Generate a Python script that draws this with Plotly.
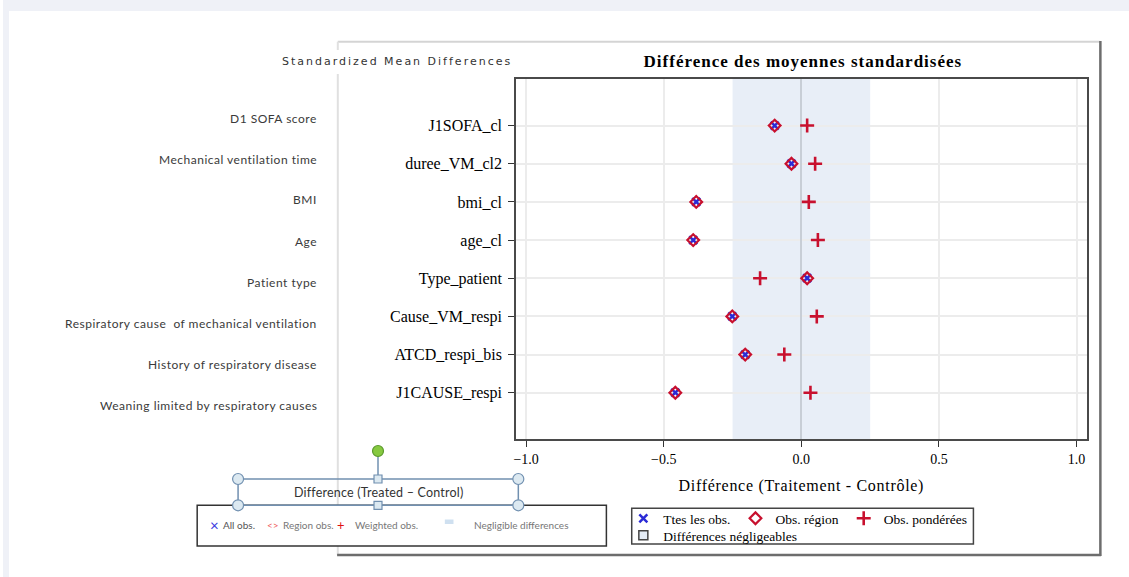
import plotly.graph_objects as go

W, H = 1129, 577

# ---------------- data ----------------
categories = ["J1SOFA_cl", "duree_VM_cl2", "bmi_cl", "age_cl",
              "Type_patient", "Cause_VM_respi", "ATCD_respi_bis", "J1CAUSE_respi"]
english_labels = ["D1 SOFA score", "Mechanical ventilation time", "BMI", "Age",
                  "Patient type", "Respiratory cause  of mechanical ventilation",
                  "History of respiratory disease", "Weaning limited by respiratory causes"]
all_obs = [-0.097, -0.036, -0.382, -0.393, 0.021, -0.251, -0.204, -0.458]
region_obs = [-0.097, -0.036, -0.382, -0.393, 0.021, -0.251, -0.204, -0.458]
weighted_obs = [0.021, 0.050, 0.027, 0.060, -0.150, 0.056, -0.062, 0.033]
x_ticks = [-1.0, -0.5, 0.0, 0.5, 1.0]
negligible_limit = 0.25

# ---------------- helpers ----------------
def px(x):
    return x / W

def py(y):
    return 1 - y / H

RED = "#c8102e"
BLUE = "#2b2bd6"
SERIF = "Liberation Serif"
SANS = "Lato"

fig = go.Figure()

fig.add_trace(go.Scatter(
    x=all_obs, y=categories, mode="markers", name="Ttes les obs.",
    marker=dict(symbol="x-thin", size=8, color=BLUE, line=dict(color=BLUE, width=2.5)),
    legend="legend"))
fig.add_trace(go.Scatter(
    x=region_obs, y=categories, mode="markers", name="Obs. région",
    marker=dict(symbol="diamond-open", size=9, color=RED, line=dict(color=RED, width=2.2)),
    legend="legend"))
fig.add_trace(go.Scatter(
    x=weighted_obs, y=categories, mode="markers", name="Obs. pondérées",
    marker=dict(symbol="cross-thin", size=10, color=RED, line=dict(color=RED, width=2.6)),
    legend="legend"))
# legend-only entry for the negligible band
fig.add_trace(go.Scatter(
    x=[None], y=[None], mode="markers", name="Différences négligeables",
    marker=dict(symbol="square", size=9, color="#e4ecf6", line=dict(color="#444", width=1.5)),
    legend="legend2"))

shapes = []
# page background strips
shapes.append(dict(type="rect", xref="paper", yref="paper", x0=0, x1=1, y0=py(11), y1=1,
                   fillcolor="#eff1f7", line=dict(width=0), layer="below"))
shapes.append(dict(type="rect", xref="paper", yref="paper", x0=0, x1=px(6), y0=0, y1=py(11),
                   fillcolor="#eff1f7", line=dict(width=0), layer="below"))
# negligible band
shapes.append(dict(type="rect", xref="x", yref="y domain", x0=-negligible_limit, x1=negligible_limit,
                   y0=0, y1=1, fillcolor="#e8eef7", line=dict(width=0), layer="below"))

def seg(x0, y0, x1, y1, color, width):
    shapes.append(dict(type="line", xref="paper", yref="paper", x0=px(x0), y0=py(y0),
                       x1=px(x1), y1=py(y1), line=dict(color=color, width=width)))

# outer SAS frame
seg(335.7, 41.7, 1100, 41.7, "#d4d4d4", 2)
seg(335.7, 41.7, 335.7, 50, "#e0e0e0", 2)
seg(335.7, 74, 335.7, 555, "#e0e0e0", 2)
seg(1100.3, 41, 1100.3, 556, "#6d6d6d", 2.5)
seg(335, 555, 1101, 555, "#6d6d6d", 2.5)

# French legend box
shapes.append(dict(type="rect", xref="paper", yref="paper", x0=px(630.4), x1=px(973), y0=py(544),
                   y1=py(508.3), line=dict(color="#444", width=1.5), fillcolor="rgba(0,0,0,0)"))

# English legend box (pasted image)
shapes.append(dict(type="rect", xref="paper", yref="paper", x0=px(194.7), x1=px(605), y0=py(546),
                   y1=py(505.3), line=dict(color="#333", width=1.5), fillcolor="white"))
shapes.append(dict(type="rect", xref="paper", yref="paper", x0=px(443), x1=px(451.7), y0=py(524),
                   y1=py(519.5), line=dict(width=0), fillcolor="#cfe0f0"))

# selected text box with handles
HC = "#7190b0"
shapes.append(dict(type="rect", xref="paper", yref="paper", x0=px(235.7), x1=px(516.7), y0=py(505.3),
                   y1=py(479), line=dict(color=HC, width=1.5), fillcolor="rgba(0,0,0,0)"))
seg(376, 455.5, 376, 475, HC, 1.5)
for (cx, cy) in [(235.7, 479), (516.7, 479), (235.7, 505.3), (516.7, 505.3)]:
    shapes.append(dict(type="circle", xref="paper", yref="paper", x0=px(cx - 5.5), x1=px(cx + 5.5),
                       y0=py(cy + 5.5), y1=py(cy - 5.5), line=dict(color=HC, width=1.2),
                       fillcolor="#dce9f1"))
for (cx, cy) in [(376, 479), (376, 505.3)]:
    shapes.append(dict(type="rect", xref="paper", yref="paper", x0=px(cx - 4), x1=px(cx + 4),
                       y0=py(cy + 4), y1=py(cy - 4), line=dict(color=HC, width=1.2),
                       fillcolor="#dce9f1"))
shapes.append(dict(type="circle", xref="paper", yref="paper", x0=px(376 - 5.5), x1=px(376 + 5.5),
                   y0=py(451 + 5.5), y1=py(451 - 5.5), line=dict(color="#5c9a2e", width=1.2),
                   fillcolor="#86c940"))

annotations = []
annotations.append(dict(
    text='<span style="letter-spacing:2px">Standardized Mean Differences</span>',
    x=px(512), y=py(61), xref="paper", yref="paper", xanchor="right", yanchor="middle",
    showarrow=False, font=dict(family="DejaVu Sans", size=11, color="#333")))
for i, lab in enumerate(english_labels):
    annotations.append(dict(text='<span style="letter-spacing:0.5px">%s</span>' % lab,
                            x=px(317), y=py(118 + 41 * i), xref="paper", yref="paper",
                            xanchor="right", yanchor="middle", showarrow=False,
                            font=dict(family=SANS, size=12, color="#3a3a3a")))
annotations.append(dict(text='<span style="letter-spacing:0.2px">Difference (Treated \u2013 Control)</span>',
                        x=px(376), y=py(492.5),
                        xref="paper", yref="paper", xanchor="center", yanchor="middle",
                        showarrow=False, font=dict(family=SANS, size=12.5, color="#333")))
eng_items = [
    ("\u00d7", 211.7, "#3a3ae0", 15, "center"),
    ("All obs.", 219, "#555", 10, "left"),
    ("&lt;&gt;", 262.7, "#f06060", 10, "left"),
    ("Region obs.", 279, "#777", 10, "left"),
    ("+", 339, "#e01010", 13, "center"),
    ("Weighted obs.", 350.7, "#777", 10, "left"),
    ("Negligible differences", 470, "#777", 10, "left"),
]
for text, x, col, sz, anc in eng_items:
    annotations.append(dict(text=text, x=px(x), y=py(525), xref="paper", yref="paper",
                            xanchor=anc, yanchor="middle",
                            showarrow=False, font=dict(family=SANS, size=sz, color=col)))

fig.update_layout(
    width=W, height=H,
    margin=dict(l=0, r=0, t=0, b=0),
    paper_bgcolor="white", plot_bgcolor="white",
    title=dict(text='<b><span style="letter-spacing:1px">Différence des moyennes standardisées</span></b>',
               x=px(802), y=py(61),
               xanchor="center", yanchor="middle", xref="paper", yref="paper",
               font=dict(family=SERIF, size=17, color="black")),
    xaxis=dict(domain=[px(514.6), px(1086.4)], range=[-1.036, 1.036],
               tickvals=x_ticks, tickformat=".1f", ticks="outside", ticklen=6, tickwidth=1.2,
               tickcolor="#333", showline=True, linecolor="#4a4a4a", linewidth=2, mirror=True,
               showgrid=True, gridcolor="#ececec", gridwidth=1.5,
               zeroline=True, zerolinecolor="#c8ced6", zerolinewidth=2,
               tickfont=dict(family=SERIF, size=14, color="black"),
               title=dict(text='<span style="letter-spacing:0.7px">Différence (Traitement - Contrôle)</span>',
                          standoff=14,
                          font=dict(family=SERIF, size=16, color="black"))),
    yaxis=dict(domain=[py(439.3), py(79)], type="category", categoryorder="array",
               categoryarray=categories, range=[7 + 1.22, -1.22],
               ticks="outside", ticklen=6, tickwidth=1.2, tickcolor="#333",
               showline=True, linecolor="#4a4a4a", linewidth=2, mirror=True,
               showgrid=True, gridcolor="#ececec", gridwidth=1.5, ticklabelstandoff=3,
               tickfont=dict(family=SERIF, size=16, color="black")),
    legend=dict(orientation="h", x=px(622), y=py(503), xanchor="left", yanchor="top",
                bgcolor="rgba(0,0,0,0)", borderwidth=0, itemwidth=30,
                font=dict(family=SERIF, size=13.5, color="black")),
    legend2=dict(orientation="h", x=px(622), y=py(520), xanchor="left", yanchor="top",
                 bgcolor="rgba(0,0,0,0)", borderwidth=0, itemwidth=30,
                 font=dict(family=SERIF, size=13.5, color="black")),
    shapes=shapes,
    annotations=annotations,
)

fig.write_html("out.html", config={"displayModeBar": False},
               post_script="document.body.style.margin='0';document.body.style.overflow='hidden';")
